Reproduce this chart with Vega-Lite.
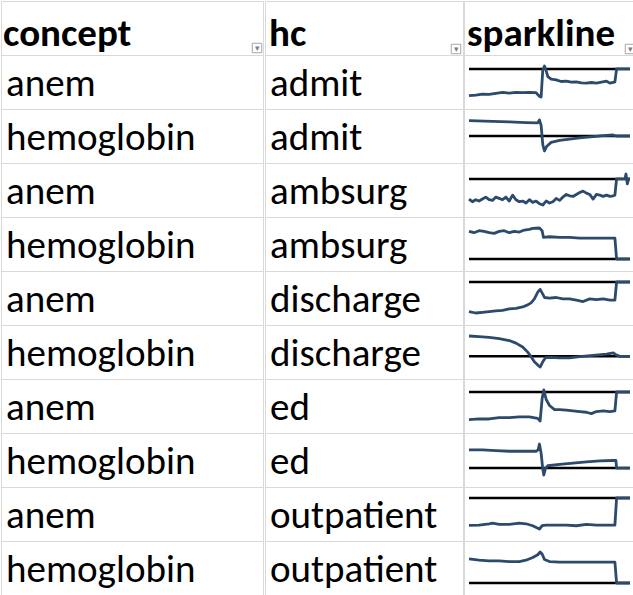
{
  "$schema": "https://vega.github.io/schema/vega-lite/v6.json",
  "padding": 0,
  "autosize": {"type": "pad"},
  "background": "white",
  "spacing": -2,
  "config": {
    "view": {"stroke": "#d9d9d9", "strokeWidth": 1},
    "font": "Lato",
    "text": {"font": "Calibri, Carlito, Lato", "color": "#000000"}
  },
  "datasets": {
    "cells": [
      {"r": 0, "col": "concept", "text": "concept"}, {"r": 0, "col": "hc", "text": "hc"},
      {"r": 1, "col": "concept", "text": "anem"}, {"r": 1, "col": "hc", "text": "admit"},
      {"r": 2, "col": "concept", "text": "hemoglobin"}, {"r": 2, "col": "hc", "text": "admit"},
      {"r": 3, "col": "concept", "text": "anem"}, {"r": 3, "col": "hc", "text": "ambsurg"},
      {"r": 4, "col": "concept", "text": "hemoglobin"}, {"r": 4, "col": "hc", "text": "ambsurg"},
      {"r": 5, "col": "concept", "text": "anem"}, {"r": 5, "col": "hc", "text": "discharge"},
      {"r": 6, "col": "concept", "text": "hemoglobin"}, {"r": 6, "col": "hc", "text": "discharge"},
      {"r": 7, "col": "concept", "text": "anem"}, {"r": 7, "col": "hc", "text": "ed"},
      {"r": 8, "col": "concept", "text": "hemoglobin"}, {"r": 8, "col": "hc", "text": "ed"},
      {"r": 9, "col": "concept", "text": "anem"}, {"r": 9, "col": "hc", "text": "outpatient"},
      {"r": 10, "col": "concept", "text": "hemoglobin"}, {"r": 10, "col": "hc", "text": "outpatient"}
    ],
    "spark": [
      {"r": 0, "text": "sparkline"},
      {"r":1,"t":0,"v":-81},{"r":1,"t":20,"v":-79},{"r":1,"t":40,"v":-76},{"r":1,"t":60,"v":-77},{"r":1,"t":80,"v":-74},{"r":1,"t":100,"v":-71},{"r":1,"t":120,"v":-73},{"r":1,"t":140,"v":-71},{"r":1,"t":160,"v":-72},{"r":1,"t":180,"v":-71},{"r":1,"t":200,"v":-72},{"r":1,"t":210,"v":-83},{"r":1,"t":215,"v":-85},{"r":1,"t":220,"v":-3},{"r":1,"t":225,"v":9},{"r":1,"t":230,"v":-5},{"r":1,"t":235,"v":-23},{"r":1,"t":245,"v":-31},{"r":1,"t":260,"v":-33},{"r":1,"t":275,"v":-38},{"r":1,"t":290,"v":-37},{"r":1,"t":305,"v":-40},{"r":1,"t":320,"v":-39},{"r":1,"t":335,"v":-42},{"r":1,"t":350,"v":-43},{"r":1,"t":365,"v":-41},{"r":1,"t":380,"v":-43},{"r":1,"t":395,"v":-40},{"r":1,"t":410,"v":-37},{"r":1,"t":420,"v":-43},{"r":1,"t":430,"v":-41},{"r":1,"t":435,"v":-39},{"r":1,"t":440,"v":0},{"r":1,"t":460,"v":0},{"r":1,"t":480,"v":0},
      {"r":2,"t":0,"v":48},{"r":2,"t":70,"v":46},{"r":2,"t":120,"v":44},{"r":2,"t":170,"v":42},{"r":2,"t":205,"v":41},{"r":2,"t":210,"v":50},{"r":2,"t":215,"v":33},{"r":2,"t":220,"v":-27},{"r":2,"t":225,"v":-47},{"r":2,"t":232,"v":-32},{"r":2,"t":245,"v":-20},{"r":2,"t":270,"v":-14},{"r":2,"t":300,"v":-10},{"r":2,"t":330,"v":-6},{"r":2,"t":370,"v":-2},{"r":2,"t":400,"v":1},{"r":2,"t":430,"v":3},{"r":2,"t":438,"v":0},{"r":2,"t":480,"v":0},
      {"r":3,"t":0,"v":-61},{"r":3,"t":10,"v":-69},{"r":3,"t":20,"v":-63},{"r":3,"t":30,"v":-67},{"r":3,"t":40,"v":-61},{"r":3,"t":50,"v":-55},{"r":3,"t":60,"v":-63},{"r":3,"t":70,"v":-65},{"r":3,"t":80,"v":-55},{"r":3,"t":90,"v":-59},{"r":3,"t":100,"v":-63},{"r":3,"t":110,"v":-55},{"r":3,"t":120,"v":-67},{"r":3,"t":130,"v":-49},{"r":3,"t":140,"v":-63},{"r":3,"t":150,"v":-69},{"r":3,"t":160,"v":-67},{"r":3,"t":170,"v":-73},{"r":3,"t":180,"v":-63},{"r":3,"t":190,"v":-71},{"r":3,"t":200,"v":-67},{"r":3,"t":210,"v":-75},{"r":3,"t":220,"v":-79},{"r":3,"t":230,"v":-67},{"r":3,"t":240,"v":-73},{"r":3,"t":250,"v":-69},{"r":3,"t":260,"v":-59},{"r":3,"t":270,"v":-65},{"r":3,"t":280,"v":-55},{"r":3,"t":290,"v":-47},{"r":3,"t":300,"v":-51},{"r":3,"t":310,"v":-53},{"r":3,"t":320,"v":-47},{"r":3,"t":330,"v":-41},{"r":3,"t":340,"v":-37},{"r":3,"t":350,"v":-43},{"r":3,"t":360,"v":-47},{"r":3,"t":370,"v":-61},{"r":3,"t":380,"v":-47},{"r":3,"t":390,"v":-49},{"r":3,"t":400,"v":-53},{"r":3,"t":410,"v":-49},{"r":3,"t":420,"v":-53},{"r":3,"t":430,"v":-51},{"r":3,"t":435,"v":-49},{"r":3,"t":440,"v":0},{"r":3,"t":465,"v":0},{"r":3,"t":468,"v":15},{"r":3,"t":472,"v":-15},{"r":3,"t":476,"v":0},{"r":3,"t":480,"v":0},
      {"r":4,"t":0,"v":82},{"r":4,"t":15,"v":78},{"r":4,"t":30,"v":84},{"r":4,"t":45,"v":82},{"r":4,"t":60,"v":78},{"r":4,"t":75,"v":76},{"r":4,"t":90,"v":82},{"r":4,"t":105,"v":84},{"r":4,"t":120,"v":78},{"r":4,"t":135,"v":82},{"r":4,"t":150,"v":80},{"r":4,"t":165,"v":86},{"r":4,"t":180,"v":88},{"r":4,"t":190,"v":91},{"r":4,"t":210,"v":92},{"r":4,"t":218,"v":84},{"r":4,"t":222,"v":64},{"r":4,"t":240,"v":66},{"r":4,"t":270,"v":64},{"r":4,"t":300,"v":64},{"r":4,"t":330,"v":62},{"r":4,"t":370,"v":62},{"r":4,"t":410,"v":62},{"r":4,"t":435,"v":62},{"r":4,"t":440,"v":0},{"r":4,"t":480,"v":0},
      {"r":5,"t":0,"v":-88},{"r":5,"t":20,"v":-92},{"r":5,"t":40,"v":-90},{"r":5,"t":60,"v":-88},{"r":5,"t":80,"v":-86},{"r":5,"t":100,"v":-84},{"r":5,"t":120,"v":-80},{"r":5,"t":140,"v":-78},{"r":5,"t":160,"v":-74},{"r":5,"t":175,"v":-68},{"r":5,"t":185,"v":-62},{"r":5,"t":195,"v":-50},{"r":5,"t":205,"v":-30},{"r":5,"t":212,"v":-22},{"r":5,"t":220,"v":-36},{"r":5,"t":225,"v":-46},{"r":5,"t":240,"v":-48},{"r":5,"t":260,"v":-46},{"r":5,"t":280,"v":-50},{"r":5,"t":300,"v":-50},{"r":5,"t":320,"v":-54},{"r":5,"t":340,"v":-58},{"r":5,"t":360,"v":-50},{"r":5,"t":380,"v":-52},{"r":5,"t":400,"v":-50},{"r":5,"t":420,"v":-54},{"r":5,"t":435,"v":-54},{"r":5,"t":440,"v":0},{"r":5,"t":480,"v":0},
      {"r":6,"t":0,"v":63},{"r":6,"t":30,"v":61},{"r":6,"t":60,"v":59},{"r":6,"t":90,"v":55},{"r":6,"t":120,"v":49},{"r":6,"t":140,"v":41},{"r":6,"t":160,"v":29},{"r":6,"t":175,"v":13},{"r":6,"t":185,"v":-1},{"r":6,"t":195,"v":-17},{"r":6,"t":205,"v":-27},{"r":6,"t":212,"v":-33},{"r":6,"t":220,"v":-17},{"r":6,"t":228,"v":-4},{"r":6,"t":240,"v":-3},{"r":6,"t":270,"v":-5},{"r":6,"t":300,"v":-5},{"r":6,"t":330,"v":-1},{"r":6,"t":370,"v":3},{"r":6,"t":410,"v":7},{"r":6,"t":430,"v":11},{"r":6,"t":438,"v":5},{"r":6,"t":450,"v":0},{"r":6,"t":480,"v":0},
      {"r":7,"t":0,"v":-82},{"r":7,"t":30,"v":-80},{"r":7,"t":60,"v":-80},{"r":7,"t":90,"v":-76},{"r":7,"t":120,"v":-76},{"r":7,"t":150,"v":-74},{"r":7,"t":180,"v":-74},{"r":7,"t":205,"v":-78},{"r":7,"t":212,"v":-86},{"r":7,"t":218,"v":-20},{"r":7,"t":223,"v":6},{"r":7,"t":230,"v":-22},{"r":7,"t":240,"v":-40},{"r":7,"t":255,"v":-52},{"r":7,"t":270,"v":-52},{"r":7,"t":290,"v":-54},{"r":7,"t":310,"v":-56},{"r":7,"t":330,"v":-58},{"r":7,"t":350,"v":-60},{"r":7,"t":365,"v":-64},{"r":7,"t":380,"v":-58},{"r":7,"t":400,"v":-56},{"r":7,"t":420,"v":-58},{"r":7,"t":435,"v":-56},{"r":7,"t":440,"v":0},{"r":7,"t":480,"v":0},
      {"r":8,"t":0,"v":55},{"r":8,"t":40,"v":55},{"r":8,"t":80,"v":53},{"r":8,"t":120,"v":51},{"r":8,"t":160,"v":51},{"r":8,"t":200,"v":51},{"r":8,"t":206,"v":55},{"r":8,"t":210,"v":73},{"r":8,"t":215,"v":45},{"r":8,"t":220,"v":-3},{"r":8,"t":223,"v":-21},{"r":8,"t":228,"v":-1},{"r":8,"t":235,"v":7},{"r":8,"t":270,"v":11},{"r":8,"t":310,"v":15},{"r":8,"t":350,"v":19},{"r":8,"t":390,"v":22},{"r":8,"t":430,"v":23},{"r":8,"t":438,"v":23},{"r":8,"t":440,"v":0},{"r":8,"t":480,"v":0},
      {"r":9,"t":0,"v":-84},{"r":9,"t":30,"v":-83},{"r":9,"t":60,"v":-79},{"r":9,"t":70,"v":-77},{"r":9,"t":90,"v":-81},{"r":9,"t":120,"v":-81},{"r":9,"t":150,"v":-77},{"r":9,"t":170,"v":-79},{"r":9,"t":190,"v":-85},{"r":9,"t":202,"v":-91},{"r":9,"t":210,"v":-95},{"r":9,"t":218,"v":-85},{"r":9,"t":230,"v":-83},{"r":9,"t":260,"v":-83},{"r":9,"t":290,"v":-83},{"r":9,"t":320,"v":-85},{"r":9,"t":350,"v":-81},{"r":9,"t":380,"v":-83},{"r":9,"t":410,"v":-83},{"r":9,"t":435,"v":-83},{"r":9,"t":440,"v":0},{"r":9,"t":480,"v":0},
      {"r":10,"t":0,"v":71},{"r":10,"t":30,"v":67},{"r":10,"t":60,"v":65},{"r":10,"t":90,"v":65},{"r":10,"t":120,"v":63},{"r":10,"t":150,"v":63},{"r":10,"t":170,"v":67},{"r":10,"t":190,"v":75},{"r":10,"t":205,"v":83},{"r":10,"t":212,"v":91},{"r":10,"t":218,"v":85},{"r":10,"t":225,"v":69},{"r":10,"t":240,"v":63},{"r":10,"t":270,"v":61},{"r":10,"t":330,"v":61},{"r":10,"t":370,"v":61},{"r":10,"t":410,"v":61},{"r":10,"t":435,"v":61},{"r":10,"t":440,"v":0},{"r":10,"t":480,"v":0}
    ]
  },
  "hconcat": [
    {
      "data": {"name": "cells"},
      "transform": [{"filter": "datum.col == 'concept'"}],
      "facet": {"row": {"field": "r", "type": "ordinal", "header": null, "sort": "ascending"}},
      "spacing": 0,
      "bounds": "flush",
      "spec": {
        "width": 262, "height": 54,
        "encoding": {"x": {"field": "col", "type": "nominal", "axis": null, "scale": {"type": "band", "paddingInner": 0, "paddingOuter": 0}}},
        "layer": [
          {"transform": [{"filter": "datum.r == 0"}], "mark": {"type": "text", "align": "left", "baseline": "alphabetic", "dx": 2, "dy": 18, "fontSize": 39, "fontWeight": "bold"}, "encoding": {"x": {"field": "col", "type": "nominal", "bandPosition": 0, "axis": null}, "text": {"field": "text"}}},
          {"transform": [{"filter": "datum.r > 0"}], "mark": {"type": "text", "align": "left", "baseline": "alphabetic", "dx": 5, "dy": 14, "fontSize": 39}, "encoding": {"x": {"field": "col", "type": "nominal", "bandPosition": 0, "axis": null}, "text": {"field": "text"}}},
          {"transform": [{"filter": "datum.r == 0"}], "mark": {"type": "point", "shape": "square", "size": 90, "filled": true, "fill": "white", "stroke": "#a6a6a6", "strokeWidth": 1, "opacity": 1, "xOffset": -6, "yOffset": 20}, "encoding": {"x": {"field": "col", "type": "nominal", "bandPosition": 1, "axis": null}}},
          {"transform": [{"filter": "datum.r == 0"}], "mark": {"type": "text", "text": "▾", "fontSize": 9, "color": "#7f7f7f", "align": "center", "baseline": "middle", "dx": -6, "dy": 20}, "encoding": {"x": {"field": "col", "type": "nominal", "bandPosition": 1, "axis": null}}}
        ]
      }
    },
    {
      "data": {"name": "cells"},
      "transform": [{"filter": "datum.col == 'hc'"}],
      "facet": {"row": {"field": "r", "type": "ordinal", "header": null, "sort": "ascending"}},
      "spacing": 0,
      "bounds": "flush",
      "spec": {
        "width": 198, "height": 54,
        "encoding": {"x": {"field": "col", "type": "nominal", "axis": null, "scale": {"type": "band", "paddingInner": 0, "paddingOuter": 0}}},
        "layer": [
          {"transform": [{"filter": "datum.r == 0"}], "mark": {"type": "text", "align": "left", "baseline": "alphabetic", "dx": 4, "dy": 18, "fontSize": 39, "fontWeight": "bold"}, "encoding": {"x": {"field": "col", "type": "nominal", "bandPosition": 0, "axis": null}, "text": {"field": "text"}}},
          {"transform": [{"filter": "datum.r > 0"}], "mark": {"type": "text", "align": "left", "baseline": "alphabetic", "dx": 5, "dy": 14, "fontSize": 39}, "encoding": {"x": {"field": "col", "type": "nominal", "bandPosition": 0, "axis": null}, "text": {"field": "text"}}},
          {"transform": [{"filter": "datum.r == 0"}], "mark": {"type": "point", "shape": "square", "size": 90, "filled": true, "fill": "white", "stroke": "#a6a6a6", "strokeWidth": 1, "opacity": 1, "xOffset": -7, "yOffset": 21}, "encoding": {"x": {"field": "col", "type": "nominal", "bandPosition": 1, "axis": null}}},
          {"transform": [{"filter": "datum.r == 0"}], "mark": {"type": "text", "text": "▾", "fontSize": 9, "color": "#7f7f7f", "align": "center", "baseline": "middle", "dx": -7, "dy": 21}, "encoding": {"x": {"field": "col", "type": "nominal", "bandPosition": 1, "axis": null}}}
        ]
      }
    },
    {
      "data": {"name": "spark"},
      "facet": {"row": {"field": "r", "type": "ordinal", "header": null, "sort": "ascending"}},
      "spacing": 0,
      "bounds": "flush",
      "resolve": {"scale": {"y": "independent"}},
      "spec": {
        "width": 173, "height": 54,
        "resolve": {"scale": {"x": "independent"}},
        "layer": [
          {"transform": [{"filter": "datum.r == 0"}], "mark": {"type": "text", "align": "left", "baseline": "alphabetic", "dx": 3, "dy": 18, "fontSize": 39, "fontWeight": "bold"}, "encoding": {"x": {"field": "text", "type": "nominal", "bandPosition": 0, "axis": null, "scale": {"type": "band", "paddingInner": 0, "paddingOuter": 0}}, "text": {"field": "text"}}},
          {"transform": [{"filter": "datum.r == 0"}], "mark": {"type": "point", "shape": "square", "size": 90, "filled": true, "fill": "white", "stroke": "#a6a6a6", "strokeWidth": 1, "opacity": 1, "xOffset": -7, "yOffset": 21}, "encoding": {"x": {"field": "text", "type": "nominal", "bandPosition": 1, "axis": null, "scale": {"type": "band", "paddingInner": 0, "paddingOuter": 0}}}},
          {"transform": [{"filter": "datum.r == 0"}], "mark": {"type": "text", "text": "▾", "fontSize": 9, "color": "#7f7f7f", "align": "center", "baseline": "middle", "dx": -7, "dy": 21}, "encoding": {"x": {"field": "text", "type": "nominal", "bandPosition": 1, "axis": null, "scale": {"type": "band", "paddingInner": 0, "paddingOuter": 0}}}},
          {"transform": [{"filter": "datum.r > 0 && datum.t == 0"}], "mark": {"type": "rule", "color": "#000000", "strokeWidth": 2.5}, "encoding": {"x": {"datum": 0, "type": "quantitative", "axis": null, "scale": {"domain": [0, 480], "range": [5, 166]}}, "x2": {"datum": 480}, "y": {"datum": 0, "type": "quantitative", "axis": null, "scale": {"zero": false, "nice": false, "range": [42, 11]}}}},
          {"transform": [{"filter": "datum.r > 0"}], "mark": {"type": "line", "color": "#2c4a6b", "strokeWidth": 2.8, "strokeJoin": "round"}, "encoding": {"x": {"field": "t", "type": "quantitative", "axis": null, "scale": {"domain": [0, 480], "range": [5, 166]}}, "y": {"field": "v", "type": "quantitative", "axis": null, "scale": {"zero": false, "nice": false, "range": [42, 11]}}}}
        ]
      }
    }
  ]
}
